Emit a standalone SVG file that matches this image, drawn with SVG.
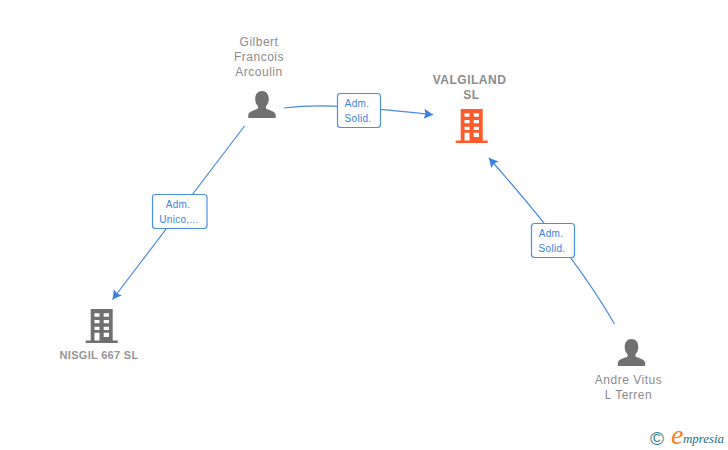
<svg xmlns="http://www.w3.org/2000/svg" width="728" height="450" viewBox="0 0 728 450">
<style>
text{font-family:"Liberation Sans",Arial,sans-serif}
.name{font-size:12px;fill:#8c8c8c;text-anchor:middle;letter-spacing:.5px}
.bold{font-weight:bold}
.small{font-size:11px;letter-spacing:.3px;fill:#979797}
.lab{font-size:10px;fill:#3b82e0;text-anchor:middle;letter-spacing:.3px}
.box{fill:#fff;stroke:#4a90e2;stroke-width:1.2}
.edge{fill:none;stroke:#4a8be0;stroke-width:1.2}
.serif{font-family:"Liberation Serif",serif;font-style:italic}
</style>
<defs>
<marker id="arrow" markerUnits="userSpaceOnUse" markerWidth="12" markerHeight="12" refX="9" refY="5.5" orient="auto">
<path d="M0 0.5L9 5.5L0 10.5L1.500 5.5Z" fill="#3b82e0"/>
</marker>
<path id="person" d="M262 91c-4.200 0-6.800 3.300-6.800 7.800c0 3 1 5.600 2.800 7.400v2.300c-1.500 1.400-9.700 2.500-9.700 6.500v3h27.400v-3c0-4-8.200-5.100-9.700-6.500v-2.300c1.800-1.800 2.800-4.400 2.800-7.400c0-4.500-2.600-7.800-6.800-7.800z"/>
<path id="building" fill-rule="evenodd" d="M460.700 109H482.700V140.500H487.700V143H455.700V140.500H460.700ZM464.500 113.300V116.700H469.500V113.300ZM473.700 113.300V116.700H479V113.300ZM464.500 120V123.300H469.500V120ZM473.700 120V123.300H479V120ZM464.500 126.700V130H469.500V126.700ZM473.700 126.700V130H479V126.700ZM464.500 132.700V140.500H469.500V132.700ZM473.700 132.700V137H479V132.700Z"/>
</defs>
<rect width="728" height="450" fill="#fff"/>
<g id="connectors">
<path class="edge" marker-end="url(#arrow)" d="M284 108C330 102 385 110 433 114.700"/>
<path class="edge" marker-end="url(#arrow)" d="M244.500 126L112.500 299.500"/>
<path class="edge" marker-end="url(#arrow)" d="M614.500 324Q575 255 489 158"/>
</g>
<g id="edge-label-1"><rect class="box" x="337.500" y="93.500" width="43" height="34" rx="3"/><text class="lab" x="357" y="107">Adm.</text><text class="lab" x="358" y="122">Solid.</text></g>
<g id="edge-label-2"><rect class="box" x="152.500" y="194.500" width="54.500" height="34" rx="3"/><text class="lab" x="178" y="208">Adm.</text><text class="lab" x="179" y="223">Unico,...</text></g>
<g id="edge-label-3"><rect class="box" x="531.500" y="223.500" width="43" height="34" rx="3"/><text class="lab" x="551" y="237">Adm.</text><text class="lab" x="552" y="252">Solid.</text></g>
<g id="node-gilbert"><use href="#person" fill="#707070"/><text class="name" x="259" y="46">Gilbert</text><text class="name" x="259" y="61">Francois</text><text class="name" x="259" y="76">Arcoulin</text></g>
<g id="node-valgiland"><use href="#building" fill="#ff5a2c"/><text class="name bold" x="469.500" y="84">VALGILAND</text><text class="name bold" x="471.500" y="99">SL</text></g>
<g id="node-nisgil"><use href="#building" x="-370" y="200" fill="#707070"/><text class="name bold small" x="99" y="359">NISGIL 667 SL</text></g>
<g id="node-andre"><use href="#person" x="369.500" y="248" fill="#707070"/><text class="name" x="628.500" y="384">Andre Vitus</text><text class="name" x="628.500" y="399">L Terren</text></g>
<g id="logo"><text x="650" y="445" style="font-size:19px;fill:#2f7f8f">©</text><text class="serif" x="671" y="444" style="font-size:28px;fill:#f58220">e</text><text class="serif" x="683" y="443" textLength="41" style="font-size:13px;fill:#1f6f80">mpresia</text></g>
</svg>
